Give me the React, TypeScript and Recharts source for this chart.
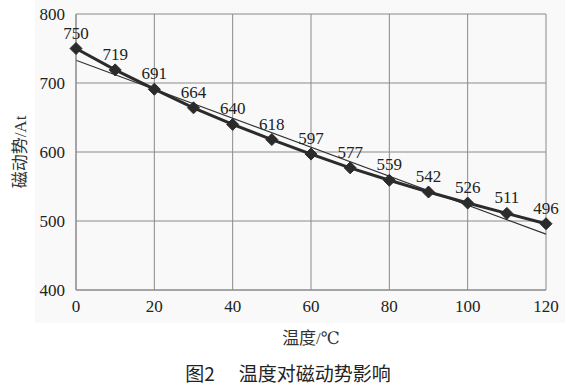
import React from 'react';
import { CartesianGrid, LabelList, Line, LineChart, XAxis, YAxis } from 'recharts';

// 温度 (℃) and 磁动势 (At)
const temps = [0, 10, 20, 30, 40, 50, 60, 70, 80, 90, 100, 110, 120];
const mmf = [750, 719, 691, 664, 640, 618, 597, 577, 559, 542, 526, 511, 496];
// thin fitted line, read at both ends
const trendX = [0, 120];
const trendY = [733, 481];

const xTicks = [0, 20, 40, 60, 80, 100, 120];
const yTicks = [400, 500, 600, 700, 800];

const SERIF = 'Liberation Serif, Times New Roman, Times, DejaVu Serif, Noto Sans CJK SC, serif';

const data = temps.map((t, i) => {
  const j = trendX.indexOf(t);
  return { t, mmf: mmf[i], trend: j >= 0 ? trendY[j] : undefined };
});

function Diamond({ cx, cy }: { cx?: number; cy?: number }) {
  if (cx == null || cy == null) return null;
  const r = 6;
  return (
    <path
      d={`M${cx},${cy - r}L${cx + r},${cy}L${cx},${cy + r}L${cx - r},${cy}Z`}
      fill="#2b2b2b"
      stroke="#2b2b2b"
    />
  );
}

export default function App() {
  return (
    <div style={{ position: 'absolute', left: 0, top: 0, width: 574, height: 386, background: '#fff', fontFamily: SERIF }}>
      <div style={{ position: 'absolute', left: 35, top: 0, width: 530, height: 323, background: '#f9f9f9' }} />
      <div style={{ position: 'absolute', left: 0, top: 0 }}>
        <LineChart width={574} height={386} data={data} margin={{ top: 14, right: 28, left: 0, bottom: 66 }} style={{ fontFamily: SERIF }}>
          <CartesianGrid stroke="#8a8a8a" strokeWidth={1} />
          <XAxis
            dataKey="t"
            type="number"
            domain={[0, 120]}
            ticks={xTicks}
            height={30}
            tickSize={0}
            tickMargin={10}
            axisLine={{ stroke: '#8a8a8a' }}
            tick={{ fill: '#222', fontSize: 17, fontFamily: SERIF }}
          />
          <YAxis
            type="number"
            domain={[400, 800]}
            ticks={yTicks}
            width={76}
            tickSize={0}
            tickMargin={11}
            axisLine={{ stroke: '#8a8a8a' }}
            tick={{ fill: '#222', fontSize: 17, fontFamily: SERIF }}
          />
          <Line
            dataKey="trend"
            connectNulls
            stroke="#333"
            strokeWidth={1.2}
            dot={false}
            isAnimationActive={false}
          />
          <Line
            dataKey="mmf"
            stroke="#2b2b2b"
            strokeWidth={3}
            dot={<Diamond />}
            isAnimationActive={false}
          >
            <LabelList dataKey="mmf" position="top" offset={10} fill="#222" fontSize={17} fontFamily={SERIF} />
          </Line>
        </LineChart>
      </div>
      <div
        style={{
          position: 'absolute',
          left: 18,
          top: 152,
          transform: 'translate(-50%, -50%) rotate(-90deg)',
          whiteSpace: 'nowrap',
          fontSize: 17,
          color: '#333',
        }}
      >
        磁动势/At
      </div>
      <div
        style={{
          position: 'absolute',
          left: 311,
          top: 336,
          transform: 'translate(-50%, -50%)',
          whiteSpace: 'nowrap',
          fontSize: 17,
          color: '#333',
        }}
      >
        温度/℃
      </div>
      <div
        style={{
          position: 'absolute',
          left: 288,
          top: 372,
          transform: 'translate(-50%, -50%)',
          whiteSpace: 'nowrap',
          fontFamily: 'Noto Sans CJK SC, sans-serif',
          fontSize: 19,
          color: '#222',
        }}
      >
        <span style={{ marginRight: 24 }}>图2</span>温度对磁动势影响
      </div>
    </div>
  );
}
